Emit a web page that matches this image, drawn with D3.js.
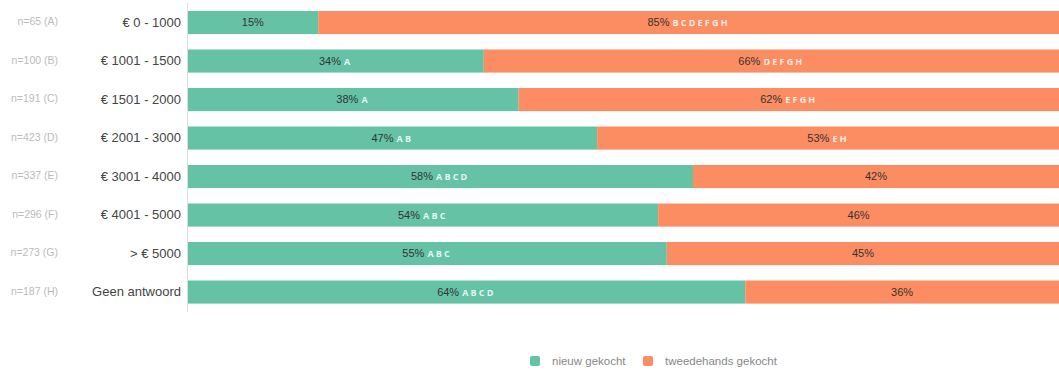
<!DOCTYPE html>
<html>
<head>
<meta charset="utf-8">
<script src="https://cdn.jsdelivr.net/npm/d3@7"></script>
<style>
  html, body { margin: 0; padding: 0; background: #fff; }
  svg { display: block; font-family: "Liberation Sans", Arial, sans-serif; }
</style>
</head>
<body>
<svg id="chart" width="1059" height="372"></svg>
<script>
// Income brackets and their sample sizes
const categories = ["€ 0 - 1000", "€ 1001 - 1500", "€ 1501 - 2000", "€ 2001 - 3000",
                    "€ 3001 - 4000", "€ 4001 - 5000", "> € 5000", "Geen antwoord"];
const sampleLabels = ["n=65 (A)", "n=100 (B)", "n=191 (C)", "n=423 (D)",
                      "n=337 (E)", "n=296 (F)", "n=273 (G)", "n=187 (H)"];

// Share (%) per series
const nieuwGekocht = [15, 34, 38, 47, 58, 54, 55, 64];
const tweedehandsGekocht = [85, 66, 62, 53, 42, 46, 45, 36];

// Significance letters shown after each percentage
const nieuwLetters = ["", "A", "A", "AB", "ABCD", "ABC", "ABC", "ABCD"];
const tweedehandsLetters = ["BCDEFGH", "DEFGH", "EFGH", "EH", "", "", "", ""];

const seriesNames = ["nieuw gekocht", "tweedehands gekocht"];
const seriesColors = ["#66c2a5", "#fc8d62"];

const svg = d3.select("#chart");
const margin = { left: 187, right: 0 };
const width = 1059;

const x = d3.scaleLinear().domain([0, 100]).range([margin.left + 0.5, width]);
const y = d3.scaleBand().domain(categories).range([3.3, 311.3])
  .paddingInner(0.4).paddingOuter(0.2);

// stack the two series
const rows = categories.map((c, i) => ({
  cat: c,
  vals: [nieuwGekocht[i], tweedehandsGekocht[i]],
  letters: [nieuwLetters[i], tweedehandsLetters[i]]
}));

const segments = [];
rows.forEach(r => {
  let acc = 0;
  r.vals.forEach((v, s) => {
    segments.push({ cat: r.cat, s, x0: acc, x1: acc + v, v, letters: r.letters[s] });
    acc += v;
  });
});

svg.append("g").selectAll("rect").data(segments).join("rect")
  .attr("x", d => x(d.x0))
  .attr("width", d => x(d.x1) - x(d.x0))
  .attr("y", d => y(d.cat))
  .attr("height", y.bandwidth())
  .attr("fill", d => seriesColors[d.s]);

// value labels with significance letters
const labels = svg.append("g").selectAll("text").data(segments).join("text")
  .attr("x", d => (x(d.x0) + x(d.x1)) / 2)
  .attr("y", d => y(d.cat) + y.bandwidth() / 2)
  .attr("dy", "0.35em")
  .attr("text-anchor", "middle")
  .attr("font-size", 11)
  .attr("fill", "#333");
labels.append("tspan").text(d => d.v + "%");
labels.filter(d => d.letters).append("tspan")
  .attr("dx", 3)
  .attr("font-family", "'Open Sans', sans-serif")
  .attr("font-size", 9)
  .attr("font-weight", "bold")
  .attr("letter-spacing", 2.2)
  .attr("fill", "#fff")
  .attr("fill-opacity", 0.85)
  .text(d => d.letters);

// category axis
const axis = svg.append("g").attr("transform", `translate(${margin.left},0)`)
  .call(d3.axisLeft(y).tickSize(0).tickPadding(6));
axis.select(".domain").attr("stroke", "#ddd").attr("d", "M0.5,3V312");
axis.selectAll(".tick text")
  .attr("font-size", 13)
  .attr("font-family", "'Liberation Sans', Arial, sans-serif")
  .attr("fill", "#444");

// sample sizes
svg.append("g").selectAll("text").data(categories).join("text")
  .attr("x", 58)
  .attr("y", d => y(d) + y.bandwidth() / 2 - 1)
  .attr("dy", "0.35em")
  .attr("text-anchor", "end")
  .attr("font-size", 10.5)
  .attr("fill", "#bbb")
  .text((d, i) => sampleLabels[i]);

// legend
const legendX = [530, 643];
const legend = svg.append("g").selectAll("g").data(seriesNames).join("g")
  .attr("transform", (d, i) => `translate(${legendX[i]},356)`);
legend.append("rect").attr("width", 10).attr("height", 10).attr("rx", 2)
  .attr("fill", (d, i) => seriesColors[i]);
legend.append("text").attr("x", 22).attr("y", 5).attr("dy", "0.35em")
  .attr("font-size", 11.5).attr("fill", "#888").text(d => d);
</script>
</body>
</html>
